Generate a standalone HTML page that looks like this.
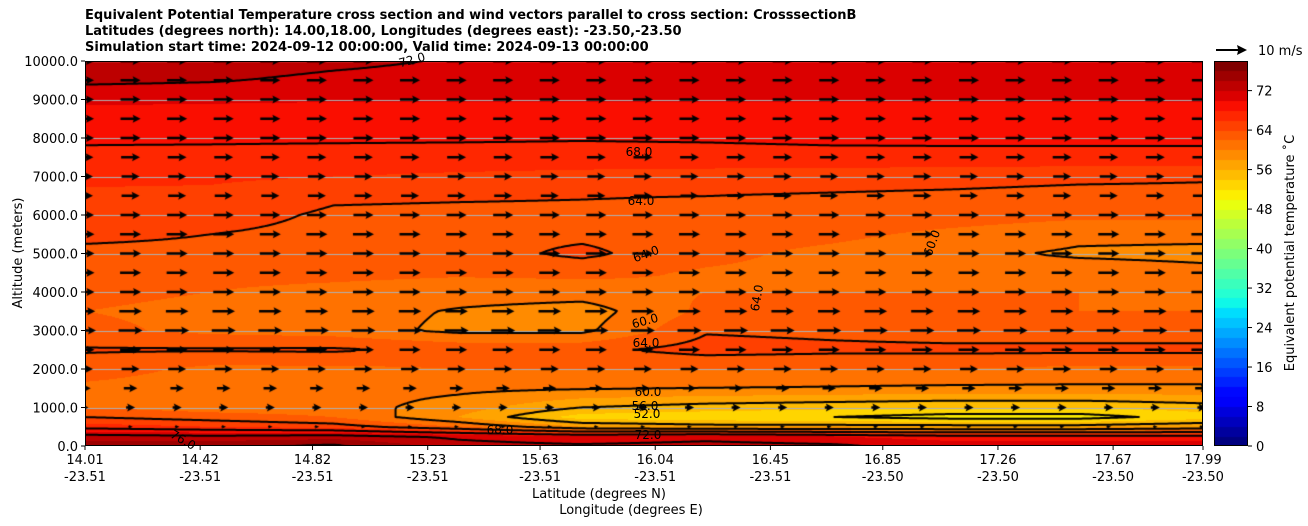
<!DOCTYPE html>
<html><head><meta charset="utf-8">
<style>
body{margin:0;background:#fff;width:1308px;height:526px;overflow:hidden;position:relative;font-family:"DejaVu Sans","Liberation Sans",sans-serif;}
.t{position:absolute;font-size:13px;color:#000;white-space:nowrap;}
.b{font-weight:bold;}
</style></head><body>
<div class="t b" style="left:85px;top:8px;">Equivalent Potential Temperature cross section and wind vectors parallel to cross section: CrosssectionB</div>
<div class="t b" style="left:85px;top:24px;">Latitudes (degrees north): 14.00,18.00, Longitudes (degrees east): -23.50,-23.50</div>
<div class="t b" style="left:85px;top:40px;">Simulation start time: 2024-09-12 00:00:00, Valid time: 2024-09-13 00:00:00</div>
<canvas id="plot" width="1118" height="385" style="position:absolute;left:85px;top:61px;"></canvas>
<canvas id="cbar" width="34" height="385" style="position:absolute;left:1214px;top:61px;"></canvas>
<svg id="ov" width="1308" height="526" style="position:absolute;left:0;top:0;" font-family="DejaVu Sans, Liberation Sans, sans-serif" font-size="13"></svg>
<script>
const lats=[14.01,14.42,14.82,15.23,15.63,16.04,16.45,16.85,17.26,17.67,17.99];
const lons=["-23.51","-23.51","-23.51","-23.51","-23.51","-23.51","-23.51","-23.50","-23.50","-23.50","-23.50"];
const yTicks=[0,1000,2000,3000,4000,5000,6000,7000,8000,9000,10000];
const cbTicks=[0,8,16,24,32,40,48,56,64,72];
const contourLevels=[52,56,60,64,68,72,76];
const gridAlt=[0,250,500,750,1000,1500,2000,2500,3000,3500,4000,4500,5000,5500,6000,6500,7000,7500,8000,8500,9000,9500,10000];
const theta=[
[75,75.5,76.5,73,72.5,73,72.5,71,71,71],
[73,72.5,73,71.5,70,71,70,69,69,69],
[67,66,65,62,58,57,57,57,57,58],
[64,63,62,58,53,52.5,52,51,51,53],
[62,61,61,59,56,55,54.5,54,54,55],
[61.5,61,60.8,60.5,60.2,60,59.8,59.6,59.6,59.6],
[63,61.5,61.5,62,62,62,62,62,61.5,61.5],
[64.2,64.2,64.3,63.5,63.5,64.8,64.5,64.5,64.5,64.5],
[62.5,61.5,61,59.5,59.5,63.8,63.5,63,63,63],
[62,61.5,61,59.8,59,62.5,63.8,62.5,62,62],
[62.5,62,61.5,61,61,62,62,62,62,61.5],
[63,62.5,62.5,62.3,62.5,61.8,61.5,61,61,60.5],
[63.5,63.5,63.2,63,64.5,62.5,61.5,60.5,59.7,59.5],
[64.5,64,63.5,63.5,63.5,63,62.5,61.5,60.5,60.5],
[65,64.8,63.7,63.6,63.6,63.4,63.2,63,62.5,62.5],
[65.6,65.5,64.3,64.2,64.1,64,63.8,63.6,63.3,63.3],
[66.5,66.4,66,65.7,65.5,65.3,65,64.8,64.5,64.3],
[67.5,67.4,67.2,67,66.9,67,67.2,67.3,67.3,67.3],
[68.3,68.3,68.3,68.3,68.2,68.3,68.5,68.5,68.5,68.5],
[69.3,69.3,69.3,69.3,69.3,69.3,69.4,69.4,69.4,69.4],
[70.3,70.2,70.1,70.1,70.1,70.1,70.1,70.1,70.1,70.1],
[72.5,72.2,71.5,71.2,71,71,71,71,71,71],
[73.5,73.2,72.5,71.8,71.6,71.6,71.6,71.6,71.6,71.6]];
const windAlt=[0,500,1000,1500,2000,2500,3000,3500,4000,4500,5000,5500,6000,6500,7000,7500,8000,8500,9000,9500,10000];
const windSpeed=[0,1.5,3,4.5,6,7,8,7.5,7,7,7,7,6.7,6,6,6.3,6.7,6.7,6.7,6.7,6.7];
const nWindCols=25;

const X0=85,X1=1203,Y0=61,Y1=446,PW=X1-X0,PH=Y1-Y0;
const latMin=lats[0],latMax=lats[lats.length-1];
function xLat(v){return X0+(v-latMin)/(latMax-latMin)*PW;}
function yAlt(a){return Y1-a/10000*PH;}
const jr=[[0,0],[0.35,0],[0.66,1],[0.89,1],[1,0.5]],jg=[[0,0],[0.125,0],[0.375,1],[0.64,1],[0.91,0],[1,0]],jb=[[0,0.5],[0.11,1],[0.34,1],[0.65,0],[1,0]];
function seg(s,x){for(let i=1;i<s.length;i++){if(x<=s[i][0]){const t=(x-s[i-1][0])/(s[i][0]-s[i-1][0]);return s[i-1][1]+t*(s[i][1]-s[i-1][1]);}}return s[s.length-1][1];}
function jet(x){return [Math.round(255*seg(jr,x)),Math.round(255*seg(jg,x)),Math.round(255*seg(jb,x))];}
function band(v){let i=Math.floor(v/2);if(i<0)i=0;if(i>38)i=38;return i;}
const nc=theta[0].length;
function field(px,py){
  const cf=px/PW*(nc-1);let c=Math.floor(cf);if(c>=nc-1)c=nc-2;if(c<0)c=0;const tx=cf-c;
  const alt=(PH-py)/PH*10000;let r=0;while(r<gridAlt.length-2&&alt>gridAlt[r+1])r++;
  let ty=(alt-gridAlt[r])/(gridAlt[r+1]-gridAlt[r]);ty=Math.max(0,Math.min(1,ty));
  const a=theta[r][c]*(1-tx)+theta[r][c+1]*tx,b=theta[r+1][c]*(1-tx)+theta[r+1][c+1]*tx;
  return a*(1-ty)+b*ty;}
const cv=document.getElementById('plot');


const ctx=cv.getContext('2d');
const img=ctx.createImageData(PW,PH);const pal=[];for(let i=0;i<39;i++)pal.push(jet(i/38));
for(let y=0;y<PH;y++)for(let x=0;x<PW;x++){const c=pal[band(field(x+0.5,y+0.5))];const k=(y*PW+x)*4;img.data[k]=c[0];img.data[k+1]=c[1];img.data[k+2]=c[2];img.data[k+3]=255;}
ctx.putImageData(img,0,0);
ctx.strokeStyle='#b0b0b0';ctx.lineWidth=1;
yTicks.forEach(a=>{const y=Math.round(yAlt(a)-Y0)+0.5;ctx.beginPath();ctx.moveTo(0,y);ctx.lineTo(PW,y);ctx.stroke();});
const st=2,gx=Math.ceil(PW/st)+1,gy=Math.ceil(PH/st)+1,G=new Float32Array(gx*gy);
for(let j=0;j<gy;j++)for(let i=0;i<gx;i++)G[j*gx+i]=field(i*st,j*st);
ctx.strokeStyle='#000';ctx.lineWidth=2;ctx.lineCap='round';ctx.beginPath();
contourLevels.forEach(L=>{
 for(let j=0;j<gy-1;j++)for(let i=0;i<gx-1;i++){
  const a=G[j*gx+i],b=G[j*gx+i+1],c=G[(j+1)*gx+i+1],d=G[(j+1)*gx+i];
  const pts=[];const x=i*st,y=j*st;
  if((a<L)!==(b<L))pts.push([x+st*(L-a)/(b-a),y]);
  if((b<L)!==(c<L))pts.push([x+st,y+st*(L-b)/(c-b)]);
  if((d<L)!==(c<L))pts.push([x+st*(L-d)/(c-d),y+st]);
  if((a<L)!==(d<L))pts.push([x,y+st*(L-a)/(d-a)]);
  for(let k=0;k+1<pts.length;k+=2){ctx.moveTo(pts[k][0],pts[k][1]);ctx.lineTo(pts[k+1][0],pts[k+1][1]);}
 }});
ctx.stroke();
ctx.fillStyle='#000';
windAlt.forEach((a,r)=>{const L=windSpeed[r]*3;if(L<1)return;const y=yAlt(a)-Y0;
 for(let c=0;c<nWindCols;c++){const cx=c*46.58-1;const x0=cx-L/2,x1=cx+L/2;
  let hl=7,hw=4,sw=1.2;if(L<hl*1.3){const s=L/(hl*1.3);hl*=s;hw*=s;sw*=Math.max(s,0.6);}
  ctx.beginPath();ctx.moveTo(x0,y-sw);ctx.lineTo(x1-hl,y-sw);ctx.lineTo(x1-hl-1,y-hw);ctx.lineTo(x1,y);ctx.lineTo(x1-hl-1,y+hw);ctx.lineTo(x1-hl,y+sw);ctx.lineTo(x0,y+sw);ctx.closePath();ctx.fill();}});
const cb=document.getElementById('cbar');


const cx2=cb.getContext('2d');
for(let i=0;i<39;i++){const c=pal[i];cx2.fillStyle=`rgb(${c[0]},${c[1]},${c[2]})`;const yt=PH-(i+1)*2/78*PH,yb=PH-i*2/78*PH;cx2.fillRect(0,Math.floor(yt),34,Math.ceil(yb)-Math.floor(yt));}
const ov=document.getElementById('ov');const NS='http://www.w3.org/2000/svg';
function el(tag,attrs,txt){const e=document.createElementNS(NS,tag);for(const k in attrs)e.setAttribute(k,attrs[k]);if(txt!==undefined)e.textContent=txt;ov.appendChild(e);return e;}
const frame=el('rect',{x:X0+0.5,y:Y0+0.5,width:PW-1,height:PH-1,fill:'none',stroke:'#000','stroke-width':1});


const cbf=el('rect',{x:1214.5,y:61.5,width:33,height:384,fill:'none',stroke:'#000','stroke-width':1});


lats.forEach((v,i)=>{const x=i===lats.length-1?X1:xLat(v);
 el('line',{x1:x,x2:x,y1:Y1,y2:Y1+4,stroke:'#000'});
 const t=el('text',{x:x,y:Y1+18,'text-anchor':'middle'},v.toFixed(2));
 
 
 const t2=el('text',{x:x,y:Y1+35,'text-anchor':'middle'},lons[i]);
 
 });
yTicks.forEach(a=>{const y=yAlt(a);el('line',{x1:X0-4,x2:X0,y1:y,y2:y,stroke:'#000'});
 const t=el('text',{x:X0-7,y:y+5,'text-anchor':'end'},a.toFixed(1));
 
 });
cbTicks.forEach(v=>{const y=Y1-v/78*PH;el('line',{x1:1248,x2:1252,y1:y,y2:y,stroke:'#000'});
 const t=el('text',{x:1256,y:y+5},String(v));
 
 });
let t;
t=el('text',{x:599,y:498,'text-anchor':'middle'},'Latitude (degrees N)');


t=el('text',{x:631,y:514,'text-anchor':'middle'},'Longitude (degrees E)');


t=el('text',{x:22,y:253,'text-anchor':'middle',transform:'rotate(-90 22 253)'},'Altitude (meters)');


t=el('text',{x:1294,y:253,'text-anchor':'middle',transform:'rotate(-90 1294 253)'},'Equivalent potential temperature ˚C');


const key=el('path',{d:'M1216,49 L1238,49 L1237,45 L1247,50 L1237,55 L1238,51 L1216,51 Z',fill:'#000'});


t=el('text',{x:1258,y:55},'10 m/s');


const clabels=[["72.0",412,64,-15],["68.0",639,156,0],["64.0",641,205,0],["64.0",646,258,-20],["60.0",645,325,-15],["64.0",646,347,0],["60.0",648,396,0],["56.0",645,410,0],["52.0",647,418,0],["72.0",648,439,0],["68.0",500,434,0],["76.0",183,444,30],["60.0",932,247,-70],["64.0",757,302,-80]];
clabels.forEach(c=>{const e=el('text',{x:c[1],y:c[2],'text-anchor':'middle','font-size':12,transform:`rotate(${c[3]} ${c[1]} ${c[2]-4})`},c[0]);
 
 });
</script>
</body></html>
